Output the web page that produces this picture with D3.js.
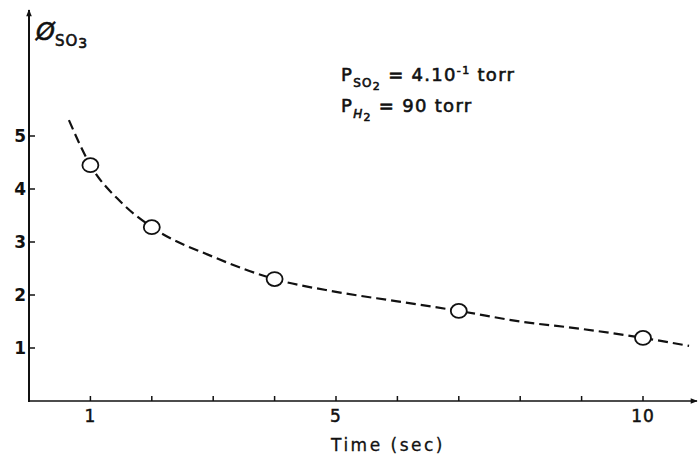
<!DOCTYPE html>
<html>
<head>
<meta charset="utf-8">
<script src="https://cdn.jsdelivr.net/npm/d3@7"></script>
<style>
  body { margin: 0; background: #fff; }
  text { font-family: "DejaVu Sans", sans-serif; fill: #111; }
</style>
</head>
<body>
<svg width="700" height="456"></svg>
<script>
// measured points
let times = [1, 2, 4, 7, 10]
let phi = [4.45, 3.28, 2.3, 1.7, 1.19]

// dashed fitted curve
let curveT = [0.65, 1, 1.5, 2, 3, 4, 5, 6, 7, 8, 9, 10, 10.75]
let curvePhi = [5.3, 4.45, 3.75, 3.28, 2.72, 2.3, 2.06, 1.88, 1.7, 1.5, 1.36, 1.19, 1.04]

let xTicks = [1, 2, 3, 4, 5, 6, 7, 8, 9, 10]
let xLabels = [1, 5, 10]
let yTicks = [1, 2, 3, 4, 5]

let svg = d3.select('svg')

let x = d3.scaleLinear().domain([0, 10]).range([29, 643])
let y = d3.scaleLinear().domain([0, 5]).range([401, 136])

let ink = '#111'

// arrow head
svg.append('defs').append('marker')
    .attr('id', 'arrow')
    .attr('viewBox', '0 0 10 10')
    .attr('refX', 9).attr('refY', 5)
    .attr('markerWidth', 9).attr('markerHeight', 7)
    .attr('markerUnits', 'userSpaceOnUse')
    .attr('orient', 'auto')
    .append('path')
    .attr('d', 'M0,1 L10,5 L0,9 Z')
    .attr('fill', ink)

// axes lines
svg.append('line')
    .attr('x1', x(0)).attr('y1', y(0))
    .attr('x2', 697).attr('y2', y(0))
    .attr('stroke', ink).attr('stroke-width', 1.5)
    .attr('marker-end', 'url(#arrow)')

svg.append('line')
    .attr('x1', x(0)).attr('y1', y(0) + 1)
    .attr('x2', x(0)).attr('y2', 10)
    .attr('stroke', ink).attr('stroke-width', 2)
    .attr('marker-end', 'url(#arrow)')

// x ticks (pointing up)
svg.selectAll('line.xt')
    .data(xTicks)
    .enter()
    .append('line')
    .attr('class', 'xt')
    .attr('x1', d => x(d)).attr('x2', d => x(d))
    .attr('y1', y(0)).attr('y2', y(0) - 5)
    .attr('stroke', ink).attr('stroke-width', 1.5)

svg.selectAll('text.xl')
    .data(xLabels)
    .enter()
    .append('text')
    .attr('class', 'xl')
    .attr('x', d => x(d))
    .attr('y', 422)
    .attr('text-anchor', 'middle')
    .attr('font-size', 17)
    .attr('stroke', ink).attr('stroke-width', 0.5)
    .attr('letter-spacing', 1)
    .text(d => d)

// y ticks (pointing right)
svg.selectAll('line.yt')
    .data(yTicks)
    .enter()
    .append('line')
    .attr('class', 'yt')
    .attr('x1', x(0)).attr('x2', x(0) + 6)
    .attr('y1', d => y(d)).attr('y2', d => y(d))
    .attr('stroke', ink).attr('stroke-width', 1.5)

svg.selectAll('text.yl')
    .data(yTicks)
    .enter()
    .append('text')
    .attr('class', 'yl')
    .attr('x', 26)
    .attr('y', d => y(d) + 6)
    .attr('text-anchor', 'end')
    .attr('font-size', 17)
    .attr('font-weight', 'bold')
    .text(d => d)

// dashed curve
let line = d3.line()
    .x(d => x(d[0]))
    .y(d => y(d[1]))
    .curve(d3.curveMonotoneX)

svg.append('path')
    .datum(d3.zip(curveT, curvePhi))
    .attr('d', line)
    .attr('fill', 'none')
    .attr('stroke', ink)
    .attr('stroke-width', 2.2)
    .attr('stroke-dasharray', '10,5')

// open circles
svg.selectAll('ellipse.pt')
    .data(d3.zip(times, phi))
    .enter()
    .append('ellipse')
    .attr('class', 'pt')
    .attr('cx', d => x(d[0]))
    .attr('cy', d => y(d[1]))
    .attr('rx', 8).attr('ry', 7)
    .attr('fill', '#fff')
    .attr('stroke', ink)
    .attr('stroke-width', 1.8)

// y label
let yl = svg.append('text').attr('x', 36).attr('y', 40).attr('font-size', 24)
    .attr('stroke', ink).attr('stroke-width', 0.6)
yl.append('tspan').attr('font-style', 'italic').text('Ø')
yl.append('tspan').attr('font-size', 15).attr('dy', 6).attr('letter-spacing', 1).text('SO')
yl.append('tspan').attr('font-size', 14).attr('dy', 2).text('3')

// x label
svg.append('text')
    .attr('x', 388).attr('y', 451)
    .attr('text-anchor', 'middle')
    .attr('font-size', 17)
    .attr('letter-spacing', 2.5)
    .attr('stroke', ink).attr('stroke-width', 0.3)
    .text('Time (sec)')

// annotations
let t1 = svg.append('text').attr('x', 341).attr('y', 81).attr('font-size', 18)
    .attr('letter-spacing', 1.3).attr('stroke', ink).attr('stroke-width', 0.6)
t1.append('tspan').text('P')
t1.append('tspan').attr('font-size', 12).attr('dy', 6).text('SO')
t1.append('tspan').attr('font-size', 11).attr('dy', 3).text('2')
t1.append('tspan').attr('dy', -9).text(' = 4.10')
t1.append('tspan').attr('font-size', 11).attr('dy', -7).text('-1')
t1.append('tspan').attr('dy', 7).text(' torr')

let t2 = svg.append('text').attr('x', 341).attr('y', 112).attr('font-size', 18)
    .attr('letter-spacing', 1.3).attr('stroke', ink).attr('stroke-width', 0.6)
t2.append('tspan').text('P')
t2.append('tspan').attr('font-size', 12).attr('font-style', 'italic').attr('dy', 6).text('H')
t2.append('tspan').attr('font-size', 11).attr('dy', 3).text('2')
t2.append('tspan').attr('dy', -9).text(' = 90 torr')
</script>
</body>
</html>
